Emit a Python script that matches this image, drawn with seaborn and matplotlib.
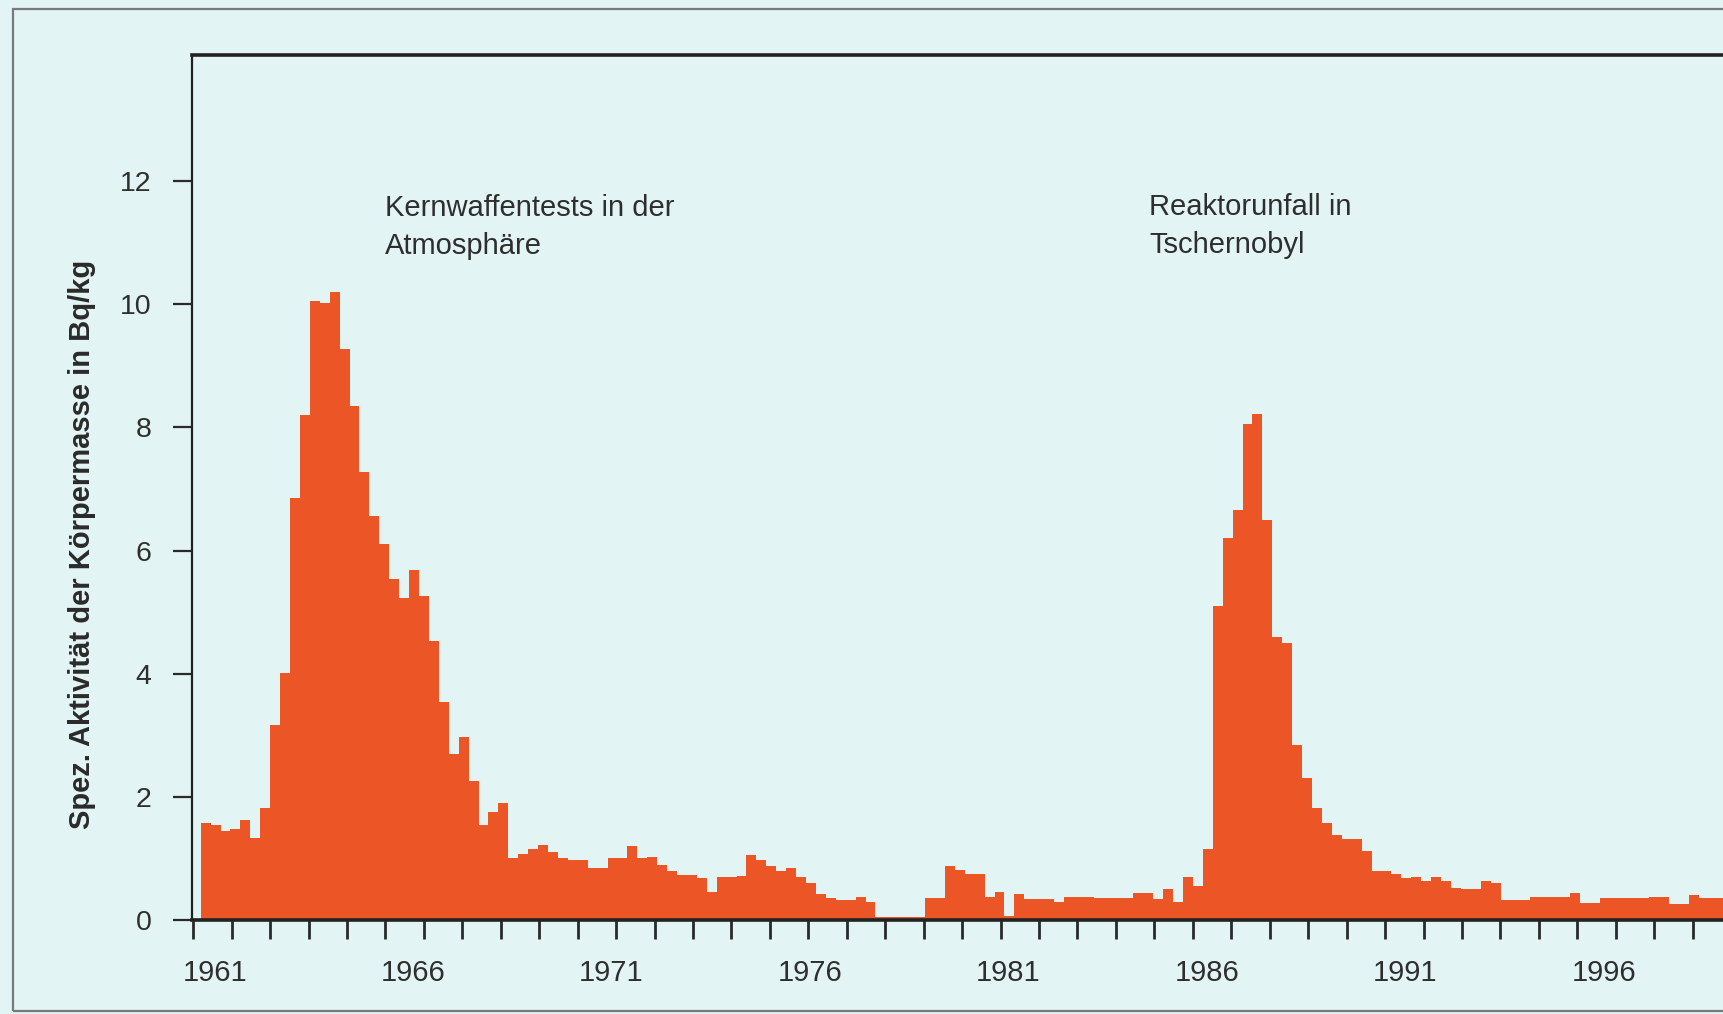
"""
Spezifische Cs-137 Aktivitaet der Koerpermasse 1961-1999 (Quartalswerte)
"""

import numpy as np
import pandas as pd
import matplotlib
matplotlib.use('Agg')
import matplotlib.pyplot as plt
from matplotlib.patches import Rectangle
import seaborn as sns

# Quartalswerte in Bq/kg, erstes Quartal beginnt 1961.25
werte_1961_1970 = [1.58, 1.55, 1.44, 1.47, 1.63, 1.33, 1.82, 3.17, 4.02, 6.86,
                   8.2, 10.05, 10.02, 10.2, 9.28, 8.35, 7.28, 6.56, 6.1, 5.54,
                   5.23, 5.68, 5.26, 4.53, 3.54, 2.7, 2.98, 2.25, 1.54, 1.75,
                   1.9, 1.0, 1.08, 1.15, 1.22, 1.1, 1.0]
werte_1970_1981 = [0.975, 0.975, 0.84, 0.84, 1.0, 1.0, 1.2, 1.0, 1.03, 0.9,
                   0.8, 0.73, 0.73, 0.68, 0.46, 0.7, 0.7, 0.72, 1.05, 0.98,
                   0.87, 0.79, 0.84, 0.7, 0.6, 0.43, 0.36, 0.33, 0.33, 0.38,
                   0.3, 0.05, 0.05, 0.05, 0.05, 0.05, 0.35, 0.35, 0.88, 0.82,
                   0.75, 0.75, 0.38, 0.46]
werte_1981_1990 = [0.06, 0.42, 0.34, 0.34, 0.34, 0.3, 0.38, 0.38, 0.38, 0.35,
                   0.35, 0.35, 0.35, 0.44, 0.44, 0.34, 0.5, 0.3, 0.7, 0.55,
                   1.15, 5.1, 6.2, 6.66, 8.05, 8.22, 6.5, 4.6, 4.5, 2.85,
                   2.3, 1.82, 1.58, 1.38, 1.32, 1.32]
werte_1990_1999 = [1.12, 0.8, 0.8, 0.75, 0.68, 0.7, 0.64, 0.7, 0.64, 0.52,
                   0.5, 0.5, 0.64, 0.6, 0.33, 0.33, 0.33, 0.38, 0.38, 0.38,
                   0.38, 0.44, 0.27, 0.27, 0.35, 0.35, 0.35, 0.35, 0.35, 0.37,
                   0.37, 0.26, 0.26, 0.41, 0.35, 0.35, 0.36]

jahr_labels = [1961, 1966, 1971, 1976, 1981, 1986, 1991, 1996]
y_ticks = [0, 2, 4, 6, 8, 10, 12]

ylabel = 'Spez. Aktivität der Körpermasse in Bq/kg'
text_tests = 'Kernwaffentests in der\nAtmosphäre'
text_tschernobyl = 'Reaktorunfall in\nTschernobyl'

BG = '#e2f4f3'
BAR = '#ec5526'
INK = '#2e2e2e'

sns.set_style('ticks')
plt.rcParams['font.family'] = ['Liberation Sans', 'DejaVu Sans']

werte = werte_1961_1970 + werte_1970_1981 + werte_1981_1990 + werte_1990_1999
kanten = [1961.25 + 0.25 * k for k in range(len(werte) + 1)]
df = pd.DataFrame({'quartal': [k + 0.125 for k in kanten[:-1]], 'wert': werte})

W, H = 1724, 1014
fig = plt.figure(figsize=(W / 100, H / 100), dpi=100, facecolor=BG)

# outer frame (cut off at the right edge in the original)
fig.patches.append(Rectangle((13 / W, 3 / H), 1.2, 1 - 12 / H, transform=fig.transFigure,
                             fill=False, edgecolor='#7a7a7a', linewidth=1.6))

ax = fig.add_axes([192 / W, 94 / H, 1 - 192 / W, (920 - 55) / H])
ax.set_facecolor(BG)

sns.histplot(data=df, x='quartal', weights='wert', bins=kanten, element='step',
             fill=True, color=BAR, alpha=1, linewidth=0, ax=ax)

ax.set_xlim(1961.03, 1999.63)
ax.set_ylim(0, 14.05)
ax.set_ylabel('')
ax.set_xlabel('')

# ticks: the original's tick marks are spaced a bit tighter than whole years
ax.set_xticks(np.linspace(1961.06, 1998.84, 40))
ax.set_xticklabels([])
ax.set_xticks([j + 0.6 for j in jahr_labels], minor=True)
ax.set_xticklabels([str(j) for j in jahr_labels], minor=True)
ax.tick_params(axis='x', which='major', direction='out', length=14, width=2, color='#2a2a2a')
ax.tick_params(axis='x', which='minor', length=0, pad=28, labelsize=21, labelcolor=INK)

ax.set_yticks(y_ticks)
ax.set_yticklabels([str(v) for v in y_ticks])
ax.tick_params(axis='y', direction='out', length=14, width=1.6, color='#2a2a2a',
               pad=15, labelsize=20.5, labelcolor=INK)

for s in ['top', 'bottom']:
    ax.spines[s].set_linewidth(2.6)
    ax.spines[s].set_color('#222222')
ax.spines['left'].set_linewidth(1.6)
ax.spines['left'].set_color('#222222')
ax.spines['right'].set_visible(False)

ax.text(1965.9, 11.25, text_tests, transform=ax.transData, ha='left', va='center',
        fontsize=21, color=INK, linespacing=1.45)
ax.text(1985.14, 11.27, text_tschernobyl, transform=ax.transData, ha='left', va='center',
        fontsize=21, color=INK, linespacing=1.45)

fig.text(82 / W, (H - 544) / H, ylabel, rotation=90, ha='center', va='center',
         fontsize=21, fontweight='bold', color='#2a2a2a',
         family=['Liberation Sans Narrow', 'Liberation Sans'])

fig.savefig('out.png', dpi=100, facecolor=BG)
